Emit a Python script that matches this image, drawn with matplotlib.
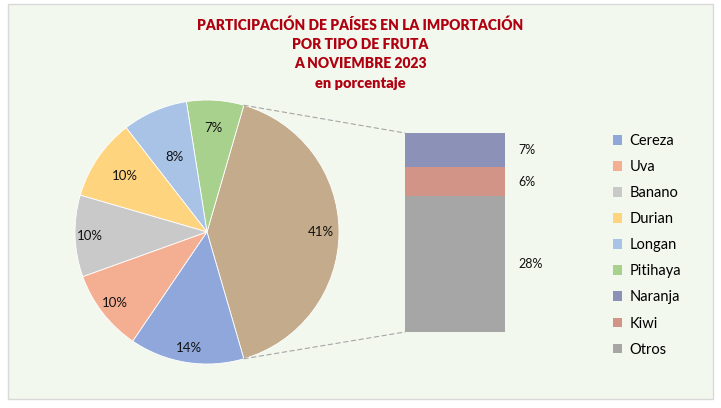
import matplotlib
matplotlib.use("Agg")
import matplotlib.pyplot as plt
from matplotlib.patches import ConnectionPatch, Rectangle, Patch
import numpy as np

plt.rcParams['font.family'] = ['Lato', 'DejaVu Sans']

# pie part (counterclockwise from the grouped slice)
pie_labels = ["Otros grupo", "Pitihaya", "Longan", "Durian", "Banano", "Uva", "Cereza"]
pie_values = [41, 7, 8, 10, 10, 10, 14]
pie_colors = ["#C4AB8B", "#A9D18E", "#A8C3E6", "#FFD47F", "#C9C9C9", "#F4AF93", "#8FA7DB"]
label_dist = [0.86, 0.79, 0.62, 0.75, 0.89, 0.88, 0.89]

# bar part (bottom to top)
bar_labels = ["Otros", "Kiwi", "Naranja"]
bar_values = [28, 6, 7]
bar_colors = ["#A6A6A6", "#D29487", "#8C91B8"]

legend_order = ["Cereza", "Uva", "Banano", "Durian", "Longan", "Pitihaya", "Naranja", "Kiwi", "Otros"]

title_lines = ["PARTICIPACIÓN DE PAÍSES EN LA IMPORTACIÓN", "POR TIPO DE FRUTA", "A NOVIEMBRE 2023"]
subtitle = "en porcentaje"

W, H = 721, 408
fig = plt.figure(figsize=(W / 100, H / 100), dpi=100)
fig.patch.set_facecolor("white")


def px_box(x0, y0, x1, y1):
    return [x0 / W, 1 - y1 / H, (x1 - x0) / W, (y1 - y0) / H]


# chart area background and border
bg = Rectangle((8 / W, 1 - 399 / H), 705 / W, 395 / H, transform=fig.transFigure,
               facecolor="#F2F8EE", edgecolor="#D9D9D9", linewidth=1)
bg.set_zorder(-10)
fig.patches.append(bg)

# title
title_color = "#B00010"
for i, line in enumerate(title_lines):
    fig.text(360 / W, 1 - (25 + i * 19.5) / H, line, ha="center", va="center",
             fontsize=10, fontweight="heavy", color=title_color)
fig.text(360 / W, 1 - 84 / H, subtitle, ha="center", va="center",
         fontsize=10.5, fontweight="heavy", color=title_color)

# pie
ax_pie = fig.add_axes(px_box(75, 100, 339, 364))
start = -pie_values[0] * 3.6 / 2
wedges, _ = ax_pie.pie(pie_values, colors=pie_colors, startangle=start, counterclock=True,
                       wedgeprops=dict(edgecolor="white", linewidth=0.6))
ax_pie.set_xlim(-1, 1)
ax_pie.set_ylim(-1, 1)
ax_pie.set_aspect("equal")
ax_pie.axis("off")

for w, v, d in zip(wedges, pie_values, label_dist):
    ang = np.deg2rad((w.theta1 + w.theta2) / 2)
    ax_pie.text(d * np.cos(ang), d * np.sin(ang), f"{v}%", ha="center", va="center",
                fontsize=9.5, color="#111111")

# stacked bar
ax_bar = fig.add_axes(px_box(405, 133, 505, 332))
bottom = 0
for lab, v, c in zip(bar_labels, bar_values, bar_colors):
    ax_bar.bar(0, v, width=1, bottom=bottom, color=c, edgecolor="none")
    ax_bar.text(0.63, bottom + v / 2, f"{v}%", ha="left", va="center", fontsize=9, color="#111111")
    bottom += v
ax_bar.set_xlim(-0.5, 0.5)
ax_bar.set_ylim(0, sum(bar_values))
ax_bar.axis("off")

# connector lines
big = wedges[0]
for theta, yb in [(big.theta2, sum(bar_values)), (big.theta1, 0)]:
    t = np.deg2rad(theta)
    con = ConnectionPatch(xyA=(np.cos(t), np.sin(t)), coordsA=ax_pie.transData,
                          xyB=(-0.5, yb), coordsB=ax_bar.transData,
                          color="#A6A6A6", linestyle=(0, (4, 3)), linewidth=0.8)
    fig.add_artist(con)

# legend
color_map = dict(zip(pie_labels, pie_colors))
color_map.update(dict(zip(bar_labels, bar_colors)))
handles = [Patch(facecolor=color_map[n], edgecolor="none") for n in legend_order]
fig.legend(handles, legend_order, loc="upper left", bbox_to_anchor=(607 / W, 1 - 128 / H),
           frameon=False, fontsize=10.5, handlelength=0.65, handleheight=0.65, handletextpad=0.5,
           labelspacing=0.83, borderaxespad=0)

fig.savefig("out.png", dpi=100, facecolor=fig.get_facecolor())
